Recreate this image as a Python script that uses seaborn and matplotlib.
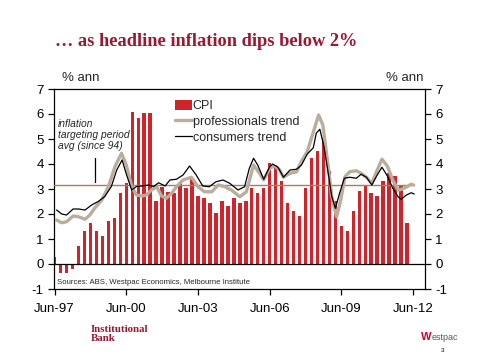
import numpy as np
import pandas as pd
import seaborn as sns
import matplotlib.pyplot as plt
from matplotlib.patches import Patch
from matplotlib.lines import Line2D

# CPI, % ann, quarterly Jun-97 .. Mar-12
cpi = [0.3, -0.35, -0.35, -0.2, 0.72, 1.31, 1.63, 1.31, 1.12, 1.71,
       1.85, 2.83, 3.23, 6.1, 5.83, 6.03, 6.03, 2.52, 3.09, 2.87,
       2.83, 3.23, 3.03, 3.39, 2.72, 2.64, 2.43, 2.03, 2.52, 2.32,
       2.63, 2.43, 2.52, 3.03, 2.83, 3.03, 4.05, 3.96, 3.33, 2.43,
       2.12, 1.92, 3.03, 4.23, 4.52, 5.03, 3.72, 2.52, 1.52, 1.32,
       2.12, 2.92, 3.12, 2.83, 2.72, 3.32, 3.63, 3.52, 3.12, 1.63]
quarter = list(range(len(cpi)))  # 0 = Jun-97

# trend series, x in quarters after Jun-97
prof_x = [0.33, 1.17, 2.0, 3.1, 4.0, 5.1, 5.9, 6.7, 7.9, 9.0, 10.1, 11.2, 12.0, 12.9,
          13.7, 14.6, 15.4, 16.2, 17.1, 17.9, 18.7, 19.6, 20.4, 21.5, 22.9, 24.0,
          25.1, 26.3, 27.4, 28.5, 29.6, 31.0, 32.1, 33.3, 34.3, 35.0, 36.0, 36.8,
          37.7, 38.3, 39.4, 40.5, 41.3, 42.3, 43.25, 44.2, 44.9, 45.8, 46.4, 47.2,
          47.9, 48.6, 49.4, 50.5, 51.3, 52.2, 53.1, 54.0, 54.8, 55.7, 56.6, 57.5,
          58.1, 58.8, 59.7, 60.1]
prof_y = [1.76, 1.65, 1.69, 1.92, 1.89, 1.79, 1.96, 2.23, 2.56, 3.09, 3.89, 4.43, 3.96, 3.1,
          2.76, 2.72, 2.76, 2.96, 3.09, 2.72, 2.63, 2.83, 3.09, 3.36, 3.47, 3.09,
          2.89, 2.89, 3.16, 3.09, 2.96, 2.69, 2.89, 3.96, 3.63, 3.36, 3.83, 3.92,
          3.76, 3.47, 3.63, 3.69, 4.1, 4.5, 5.23, 5.96, 5.56, 3.89, 2.69, 1.89,
          2.56, 3.49, 3.69, 3.73, 3.63, 3.47, 3.23, 3.76, 4.19, 3.92, 3.36, 2.96,
          2.99, 3.07, 3.19, 3.16]

cons_x = [0.33, 1.2, 2.0, 3.1, 4.0, 5.1, 6.2, 7.3, 8.4, 9.5, 10.4, 11.3, 12.0, 12.9,
          13.7, 14.6, 15.7, 16.6, 17.4, 18.5, 19.3, 20.4, 21.5, 22.6, 23.7, 24.8,
          25.9, 27.0, 28.2, 29.3, 30.7, 31.8, 32.6, 33.3, 34.0, 35.0, 36.0, 36.5,
          37.4, 38.3, 39.4, 40.5, 41.3, 42.3, 43.3, 43.8, 44.4, 45.1, 45.8, 46.4,
          47.0, 47.7, 48.5, 49.4, 50.5, 51.3, 52.2, 53.1, 54.0, 54.8, 55.7, 56.6,
          57.5, 58.0, 58.9, 59.7, 60.2]
cons_y = [2.16, 2.0, 1.96, 2.2, 2.2, 2.16, 2.36, 2.5, 2.7, 3.1, 3.76, 4.16, 3.6, 2.96,
          3.1, 3.12, 3.16, 3.1, 3.25, 3.12, 3.36, 3.39, 3.56, 3.92, 3.56, 3.12,
          3.09, 3.29, 3.36, 3.23, 2.96, 3.09, 3.83, 4.23, 3.96, 3.39, 3.89, 4.0,
          3.87, 3.47, 3.76, 3.79, 3.95, 4.4, 4.65, 5.23, 5.39, 4.69, 3.63, 2.69,
          2.23, 2.83, 3.43, 3.47, 3.43, 3.59, 3.47, 3.16, 3.56, 3.87, 3.52, 3.03,
          2.69, 2.59, 2.76, 2.85, 2.8]

target_avg = 3.15
tick_pos = [0, 12, 24, 36, 48, 60]
tick_labels = ['Jun-97', 'Jun-00', 'Jun-03', 'Jun-06', 'Jun-09', 'Jun-12']

red = '#d2232a'
beige = '#b9ad9e'
maroon = '#9e1631'

sns.set_style('white')
plt.rcParams['font.family'] = ['Liberation Sans', 'DejaVu Sans']
plt.rcParams['axes.unicode_minus'] = False

fig = plt.figure(figsize=(4.8, 3.6), dpi=100)
ax = fig.add_axes([54/480, 1 - 289/360, 371/480, 200/360])

# categorical bars sit at positions 0..59, one per quarter
sns.barplot(x=quarter, y=cpi, width=0.58, color=red, saturation=1,
            ax=ax, zorder=2, linewidth=0)
ax.axhline(0, color='black', lw=0.9, zorder=3)
ax.plot([-0.1, 60.2], [target_avg, target_avg], color='#9a8460', lw=1.0, zorder=3)
sns.lineplot(x=prof_x, y=prof_y, color=beige, lw=2.4, ax=ax, zorder=4, sort=False)
sns.lineplot(x=cons_x, y=cons_y, color='black', lw=0.9, ax=ax, zorder=5, sort=False)
# pointer from the note to the average line
ax.plot([6.7, 6.7], [3.3, 4.25], color='black', lw=0.9, zorder=5)

ax.set_xlim(-0.1, 62.0)
ax.set_ylim(-1, 7)
ax.set_yticks(range(-1, 8))
ax.set_xticks(tick_pos)
ax.set_xticklabels(tick_labels)
ax.set_xlabel('')
ax.set_ylabel('')
for s in ax.spines.values():
    s.set_visible(True)
    s.set_color('black')
    s.set_linewidth(0.9)
ax.tick_params(axis='both', direction='out', length=4, width=0.9,
               labelsize=9.5, colors='black', bottom=True, left=True)
ax.tick_params(axis='x', pad=6)

ax2 = ax.twinx()
ax2.set_ylim(-1, 7)
ax2.set_yticks(range(-1, 8))
ax2.tick_params(axis='y', direction='out', length=4, width=0.9,
                labelsize=9.5, colors='black', right=True)
for s in ax2.spines.values():
    s.set_visible(False)

handles = [Patch(facecolor=red, edgecolor='none'),
           Line2D([], [], color=beige, lw=2.4),
           Line2D([], [], color='black', lw=0.9)]
ax.legend(handles, ['CPI', 'professionals trend', 'consumers trend'],
          loc='upper left', bbox_to_anchor=(0.327, 0.945), frameon=False,
          fontsize=9, handlelength=1.3, handletextpad=0.1, labelspacing=0.3,
          borderpad=0, borderaxespad=0, handleheight=0.8)

ax.text(0.01, 0.85, 'inflation\ntargeting period\navg (since 94)', transform=ax.transAxes,
        fontsize=7.4, style='italic', va='top', ha='left', linespacing=1.1)
ax.text(0.008, 0.03, 'Sources: ABS, Westpac Economics, Melbourne Institute',
        transform=ax.transAxes, fontsize=5.6, va='center', ha='left')

fig.text(62/480, 1 - 78/360, '% ann', fontsize=9.5, va='center', ha='left')
fig.text(424/480, 1 - 78/360, '% ann', fontsize=9.5, va='center', ha='right')

fig.text(55/480, 1 - 42/360, '… as headline inflation dips below 2%',
         family='Liberation Serif', fontweight='bold', fontsize=13.2,
         color=maroon, va='center', ha='left')

fig.text(91/480, 1 - 334/360, 'Institutional\nBank', family='Liberation Serif',
         fontweight='bold', fontsize=7.8, color=maroon, va='center', ha='left',
         linespacing=0.95)
fig.text(421/480, 1 - 337/360, 'W', fontweight='bold', fontsize=8,
         color='#d5002b', va='center', ha='left')
fig.text(432/480, 1 - 337/360, 'estpac', fontsize=6.5, color='#555555',
         va='center', ha='left')
fig.text(443/480, 1 - 350/360, '3', fontsize=4.5, color='black', va='center', ha='center')

fig.savefig('out.png', dpi=100)
